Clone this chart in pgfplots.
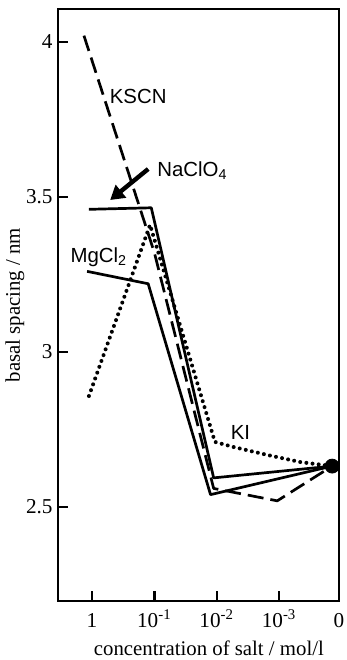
\documentclass[border=0pt]{standalone}
\usepackage{fontspec}
\setmainfont{Liberation Serif}
\newfontfamily\lsans{Liberation Sans}
\usepackage{pgfplots}
\pgfplotsset{compat=1.18}
\usetikzlibrary{arrows.meta}
\begin{document}
\begin{tikzpicture}
\useasboundingbox (-29pt,-29.5pt) rectangle (144.5pt,300.5pt);
\begin{axis}[
  at={(0,0)}, anchor=south west,
  scale only axis, width=140.5pt, height=296pt,
  xmin=-0.546, xmax=3.96, ymin=2.197, ymax=4.106,
  axis line style={line width=1.2pt},
  xtick={0,1,2,3,3.96},
  xticklabels={1,10\textsuperscript{-1},10\textsuperscript{-2},10\textsuperscript{-3},0},
  ytick={2.5,3,3.5,4}, yticklabels={2.5,3,3.5,4},
  xtick pos=lower, ytick pos=left,
  tick align=inside,
  major tick length=5pt,
  tick style={line width=1.2pt, black},
  tick label style={font=\fontsize{10.6}{12}\selectfont},
  xticklabel style={anchor=base, yshift=-13pt},
  yticklabel style={inner sep=1pt, xshift=-1.5pt},
  xlabel={concentration of salt / mol/l},
  ylabel={basal spacing / nm},
  label style={font=\fontsize{10.4}{12}\selectfont},
  xlabel style={at={(axis description cs:0.537,0)}, anchor=center, yshift=-23.5pt},
  ylabel style={at={(axis description cs:-0.153,0.5)}, anchor=center},
  clip=false,
]
% KSCN
\addplot[black, line width=1.35pt, line join=round, dash pattern=on 8pt off 3.5pt] coordinates {
  (-0.13,4.02) (1.0,3.32) (1.95,2.56) (2.97,2.52) (3.85,2.632)};
% NaClO4
\addplot[black, line width=1.35pt, line join=round] coordinates {
  (-0.05,3.46) (0.95,3.465) (1.95,2.594) (3.85,2.632)};
% MgCl2
\addplot[black, line width=1.35pt, line join=round] coordinates {
  (-0.08,3.26) (0.9,3.22) (1.9,2.54) (3.85,2.632)};
% KI
\addplot[black, line width=2pt, line cap=round, dash pattern=on 0pt off 3.1pt] coordinates {
  (-0.05,2.858) (0.93,3.41) (1.97,2.71) (2.26,2.694) (2.81,2.668) (3.34,2.645) (3.85,2.632)};
% common end point
\addplot[only marks, mark=*, mark size=3.5pt, black] coordinates {(3.85,2.632)};
\draw[line width=2.2pt, -{Triangle[length=7pt,width=8pt]}] (axis cs:0.90,3.59) -- (axis cs:0.29,3.49);
\node[font=\lsans\fontsize{10.2}{12}\selectfont] at (axis cs:0.74,3.823) {KSCN};
\node[font=\lsans\fontsize{10.2}{12}\selectfont, anchor=west, inner sep=0pt] at (axis cs:1.04,3.585) {NaClO\textsubscript{4}};
\node[font=\lsans\fontsize{10.2}{12}\selectfont] at (axis cs:0.11,3.305) {MgCl\textsubscript{2}};
\node[font=\lsans\fontsize{10.2}{12}\selectfont] at (axis cs:2.38,2.74) {KI};
\end{axis}
\end{tikzpicture}
\end{document}
